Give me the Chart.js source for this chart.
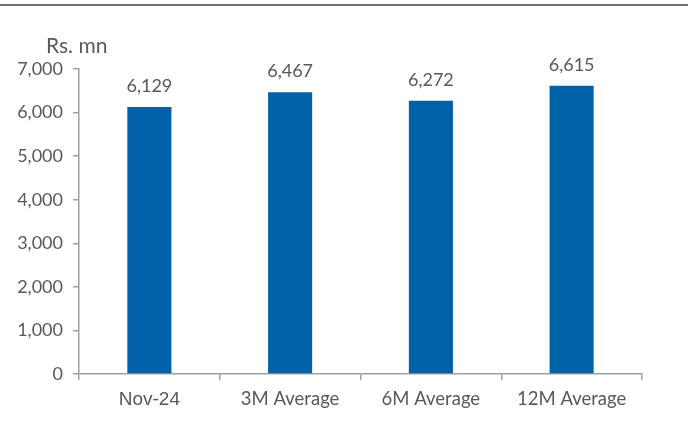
<!DOCTYPE html>
<html>
<head>
<meta charset="utf-8">
<script src="https://cdn.jsdelivr.net/npm/chart.js@4"></script>
<style>
  html, body { margin: 0; padding: 0; background: #fff; }
  #wrap { width: 688px; height: 427px; position: relative; }
</style>
</head>
<body>
<div id="wrap"><canvas id="chart" width="688" height="427"></canvas></div>
<script>
const categories = ['Nov-24', '3M Average', '6M Average', '12M Average']
const values = [6129, 6467, 6272, 6615]
const yTicks = [0, 1000, 2000, 3000, 4000, 5000, 6000, 7000]
const unitLabel = 'Rs. mn'

const textColor = '#595959'
const axisColor = '#a0a0a0'
const fmt = v => v.toLocaleString('en-US')

const decor = {
    id: 'decor',
    afterDraw(chart) {
        const ctx = chart.ctx
        ctx.save()
        // top rule
        ctx.strokeStyle = '#404040'
        ctx.lineWidth = 1.5
        ctx.beginPath()
        ctx.moveTo(0, 5)
        ctx.lineTo(chart.width, 5)
        ctx.stroke()
        // unit label
        ctx.fillStyle = textColor
        ctx.font = '21px Lato'
        ctx.textAlign = 'left'
        ctx.textBaseline = 'middle'
        ctx.fillText(unitLabel, 46, 46)
        // value labels
        ctx.font = '18px Lato'
        ctx.textAlign = 'center'
        chart.getDatasetMeta(0).data.forEach((bar, i) => {
            ctx.fillText(fmt(values[i]), bar.x, bar.y - 21)
        })
        ctx.restore()
    }
}

new Chart(document.getElementById('chart'), {
    type: 'bar',
    plugins: [decor],
    data: {
        labels: categories,
        datasets: [{
            data: values,
            backgroundColor: '#0060a8',
            categoryPercentage: 0.313,
            barPercentage: 1
        }]
    },
    options: {
        responsive: false,
        animation: false,
        layout: { padding: { top: 69, right: 46, left: 0, bottom: 0 } },
        plugins: { legend: { display: false }, tooltip: { enabled: false } },
        scales: {
            x: {
                offset: true,
                grid: { display: true, drawOnChartArea: false, offset: true, tickLength: 6, color: axisColor, lineWidth: 1.5 },
                border: { display: true, color: axisColor, width: 1.5 },
                ticks: {
                    color: textColor,
                    // first label is set in Arial-like face in the original
                    font: c => c.index === 0 ? { family: 'Liberation Sans', size: 19 } : { family: 'Lato', size: 18.5 },
                    padding: 8
                },
                afterFit(scale) { scale.height = 53 }
            },
            y: {
                min: 0,
                max: 7000,
                afterBuildTicks(scale) { scale.ticks = yTicks.map(v => ({ value: v })) },
                grid: { display: true, drawOnChartArea: false, tickLength: 6, color: axisColor, lineWidth: 1.5 },
                border: { display: true, color: axisColor, width: 1.5 },
                ticks: { color: textColor, font: { family: 'Lato', size: 18 }, padding: 10, callback: v => fmt(v) },
                afterFit(scale) { scale.width = 79 }
            }
        }
    }
})
</script>
</body>
</html>
